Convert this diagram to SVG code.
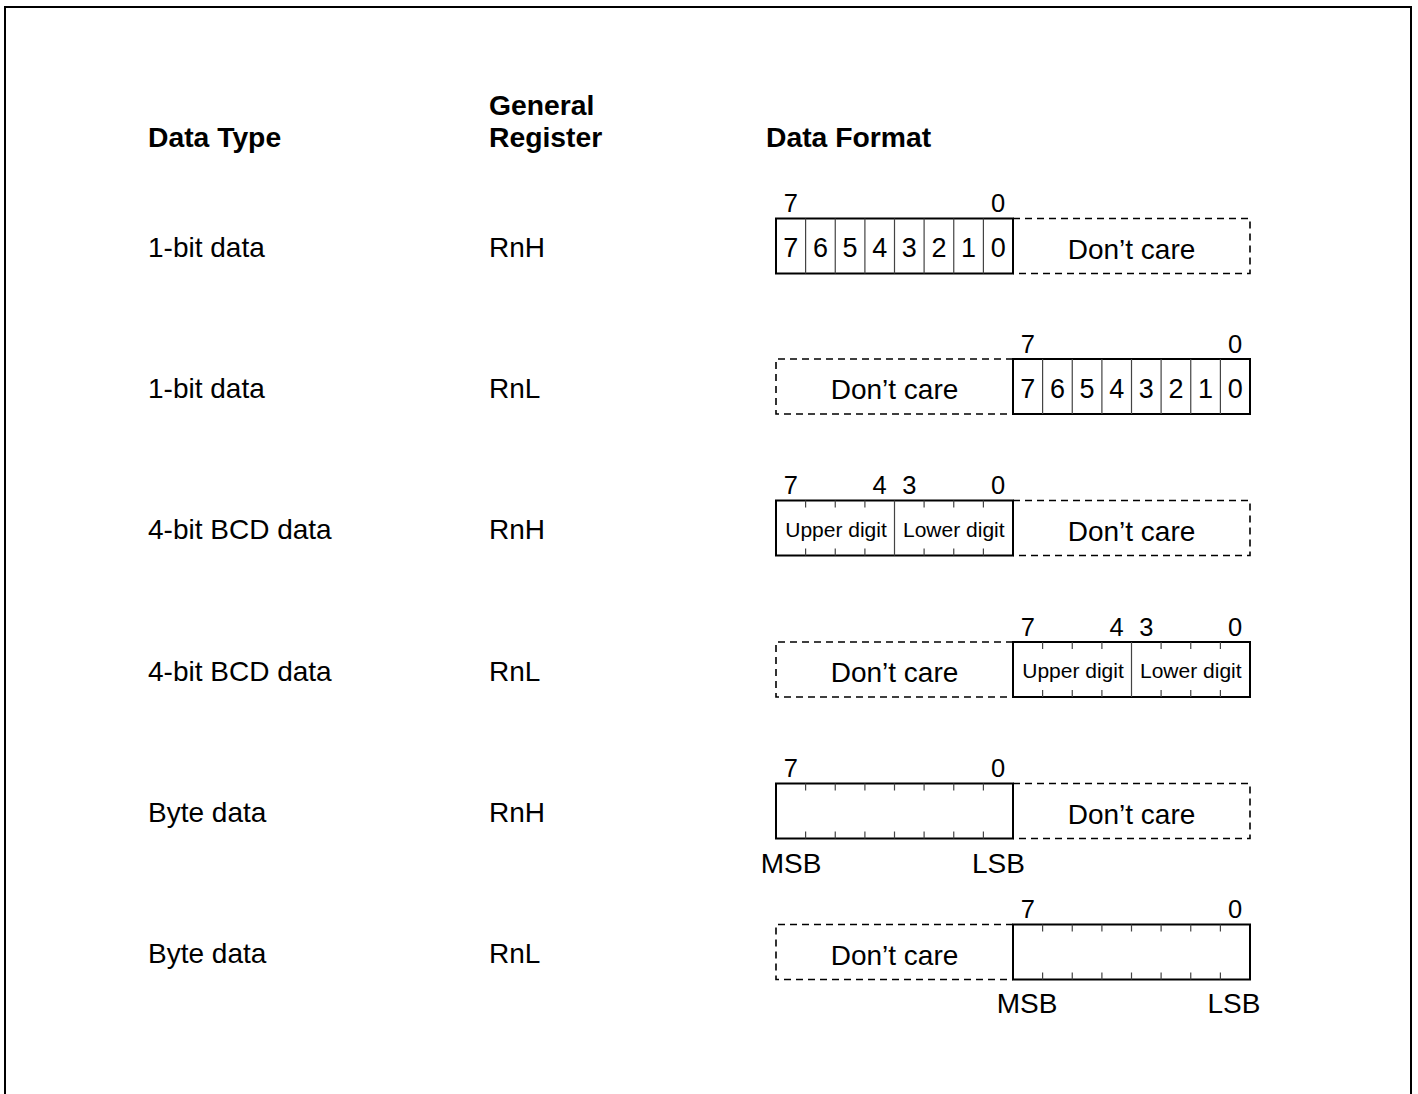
<svg xmlns="http://www.w3.org/2000/svg" width="1418" height="1094" viewBox="0 0 1418 1094">
<style>
text{font-family:"Liberation Sans",Arial,sans-serif;fill:#000}
.h{font-size:28.3px;font-weight:bold}
.t{font-size:28px}
.lb{font-size:25.5px;text-anchor:middle}
.d{font-size:27px;text-anchor:middle}
.dc{font-size:28px;text-anchor:middle}
.ud{font-size:21px;text-anchor:middle}
.ms{font-size:28px;text-anchor:middle}
.box{fill:none;stroke:#000;stroke-width:2}
.dash{fill:none;stroke:#000;stroke-width:1.6;stroke-dasharray:7 5}
.sep{stroke:#444;stroke-width:1.2}
.tick{stroke:#444;stroke-width:1.2}
</style>
<rect x="5" y="7" width="1406" height="1200" fill="#fff" stroke="#000" stroke-width="2"/>

<g id="headers">
<text class="h" x="148" y="147">Data Type</text>
<text class="h" x="489" y="115">General</text>
<text class="h" x="489" y="147">Register</text>
<text class="h" x="766" y="147">Data Format</text>
</g>

<g id="row1">
<text class="t" x="148" y="257">1-bit data</text>
<text class="t" x="489" y="257">RnH</text>
<text class="lb" x="790.8" y="212">7</text>
<text class="lb" x="998.2" y="212">0</text>
<path class="dash" d="M1013 218.5H1250V273.5H1013"/>
<rect class="box" x="776" y="218.5" width="237" height="55"/>
<path class="sep" d="M805.6 218.5V273.5M835.25 218.5V273.5M864.9 218.5V273.5M894.5 218.5V273.5M924.1 218.5V273.5M953.75 218.5V273.5M983.4 218.5V273.5"/>
<text class="d" x="790.8" y="257">7</text><text class="d" x="820.4" y="257">6</text><text class="d" x="850.1" y="257">5</text><text class="d" x="879.7" y="257">4</text><text class="d" x="909.3" y="257">3</text><text class="d" x="938.9" y="257">2</text><text class="d" x="968.6" y="257">1</text><text class="d" x="998.2" y="257">0</text>
<text class="dc" x="1131.5" y="258.5">Don’t care</text>
</g>

<g id="row2">
<text class="t" x="148" y="397.5">1-bit data</text>
<text class="t" x="489" y="397.5">RnL</text>
<text class="lb" x="1027.8" y="352.5">7</text>
<text class="lb" x="1235.2" y="352.5">0</text>
<path class="dash" d="M1013 359H776V414H1013"/>
<rect class="box" x="1013" y="359" width="237" height="55"/>
<path class="sep" d="M1042.6 359V414M1072.25 359V414M1101.9 359V414M1131.5 359V414M1161.1 359V414M1190.75 359V414M1220.4 359V414"/>
<text class="d" x="1027.8" y="397.5">7</text><text class="d" x="1057.4" y="397.5">6</text><text class="d" x="1087.1" y="397.5">5</text><text class="d" x="1116.7" y="397.5">4</text><text class="d" x="1146.3" y="397.5">3</text><text class="d" x="1175.9" y="397.5">2</text><text class="d" x="1205.6" y="397.5">1</text><text class="d" x="1235.2" y="397.5">0</text>
<text class="dc" x="894.5" y="399">Don’t care</text>
</g>

<g id="row3">
<text class="t" x="148" y="539">4-bit BCD data</text>
<text class="t" x="489" y="539">RnH</text>
<text class="lb" x="790.8" y="494">7</text>
<text class="lb" x="879.7" y="494">4</text>
<text class="lb" x="909.3" y="494">3</text>
<text class="lb" x="998.2" y="494">0</text>
<path class="dash" d="M1013 500.5H1250V555.5H1013"/>
<rect class="box" x="776" y="500.5" width="237" height="55"/>
<path class="sep" d="M894.5 500.5V555.5"/>
<path class="tick" d="M805.6 500.5v7M835.25 500.5v7M864.9 500.5v7M924.1 500.5v7M953.75 500.5v7M983.4 500.5v7M805.6 555.5v-7M835.25 555.5v-7M864.9 555.5v-7M924.1 555.5v-7M953.75 555.5v-7M983.4 555.5v-7"/>
<text class="ud" x="836" y="536.5">Upper digit</text>
<text class="ud" x="953.8" y="536.5">Lower digit</text>
<text class="dc" x="1131.5" y="540.5">Don’t care</text>
</g>

<g id="row4">
<text class="t" x="148" y="680.5">4-bit BCD data</text>
<text class="t" x="489" y="680.5">RnL</text>
<text class="lb" x="1027.8" y="635.5">7</text>
<text class="lb" x="1116.7" y="635.5">4</text>
<text class="lb" x="1146.3" y="635.5">3</text>
<text class="lb" x="1235.2" y="635.5">0</text>
<path class="dash" d="M1013 642H776V697H1013"/>
<rect class="box" x="1013" y="642" width="237" height="55"/>
<path class="sep" d="M1131.5 642V697"/>
<path class="tick" d="M1042.6 642v7M1072.25 642v7M1101.9 642v7M1161.1 642v7M1190.75 642v7M1220.4 642v7M1042.6 697v-7M1072.25 697v-7M1101.9 697v-7M1161.1 697v-7M1190.75 697v-7M1220.4 697v-7"/>
<text class="ud" x="1073" y="678">Upper digit</text>
<text class="ud" x="1190.8" y="678">Lower digit</text>
<text class="dc" x="894.5" y="682">Don’t care</text>
</g>

<g id="row5">
<text class="t" x="148" y="822">Byte data</text>
<text class="t" x="489" y="822">RnH</text>
<text class="lb" x="790.8" y="777">7</text>
<text class="lb" x="998.2" y="777">0</text>
<path class="dash" d="M1013 783.5H1250V838.5H1013"/>
<rect class="box" x="776" y="783.5" width="237" height="55"/>
<path class="tick" d="M805.6 783.5v7M835.25 783.5v7M864.9 783.5v7M894.5 783.5v7M924.1 783.5v7M953.75 783.5v7M983.4 783.5v7M805.6 838.5v-7M835.25 838.5v-7M864.9 838.5v-7M894.5 838.5v-7M924.1 838.5v-7M953.75 838.5v-7M983.4 838.5v-7"/>
<text class="dc" x="1131.5" y="823.5">Don’t care</text>
<text class="ms" x="791" y="873">MSB</text>
<text class="ms" x="998.5" y="873">LSB</text>
</g>

<g id="row6">
<text class="t" x="148" y="963">Byte data</text>
<text class="t" x="489" y="963">RnL</text>
<text class="lb" x="1027.8" y="918">7</text>
<text class="lb" x="1235.2" y="918">0</text>
<path class="dash" d="M1013 924.5H776V979.5H1013"/>
<rect class="box" x="1013" y="924.5" width="237" height="55"/>
<path class="tick" d="M1042.6 924.5v7M1072.25 924.5v7M1101.9 924.5v7M1131.5 924.5v7M1161.1 924.5v7M1190.75 924.5v7M1220.4 924.5v7M1042.6 979.5v-7M1072.25 979.5v-7M1101.9 979.5v-7M1131.5 979.5v-7M1161.1 979.5v-7M1190.75 979.5v-7M1220.4 979.5v-7"/>
<text class="dc" x="894.5" y="964.5">Don’t care</text>
<text class="ms" x="1027" y="1013">MSB</text>
<text class="ms" x="1234" y="1013">LSB</text>
</g>

<g id="connectors"></g>
</svg>
